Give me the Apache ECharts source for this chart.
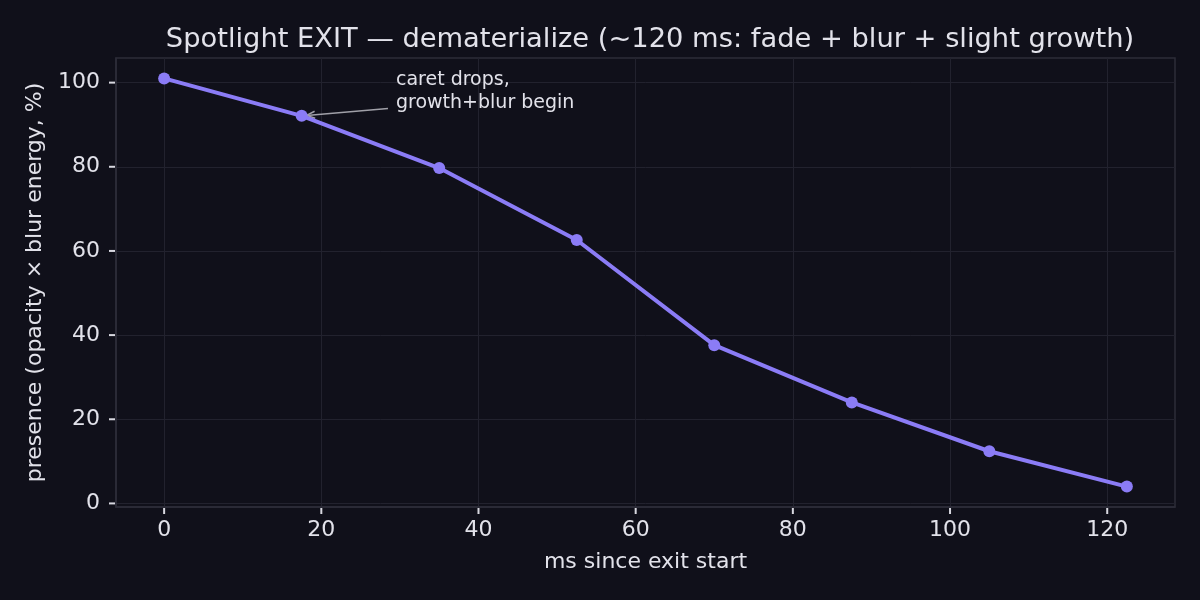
<!DOCTYPE html>
<html>
<head>
<meta charset="utf-8">
<script src="https://cdn.jsdelivr.net/npm/echarts@6/dist/echarts.min.js"></script>
<style>
  html, body { margin: 0; padding: 0; background: #10101a; }
  #chart { width: 1200px; height: 600px; }
</style>
</head>
<body>
<div id="chart"></div>
<script>
// time in ms since the exit starts
const msPoints = [0, 17.5, 35, 52.5, 70, 87.5, 105, 122.5];
// presence (opacity x blur energy), percent
const presence = [101, 92.1, 79.7, 62.6, 37.6, 24.0, 12.4, 4.0];
const xTicks = [0, 20, 40, 60, 80, 100, 120];
const yTicks = [0, 20, 40, 60, 80, 100];

const noteText = 'caret drops,\ngrowth+blur begin';
const noteAt = [17.5, 92.1];
const noteTextAt = [29.5, 97.9];

const xMin = -6.125, xMax = 128.625;
const yMin = -0.85, yMax = 105.85;

const font = 'DejaVu Sans';
const textColor = '#e2e2ea';
const frameColor = '#2c2c38';
const tickColor = '#d8d8e0';

const chart = echarts.init(document.getElementById('chart'));

const option = {
  backgroundColor: '#10101a',
  animation: false,
  title: {
    text: 'Spotlight EXIT — dematerialize (~120 ms: fade + blur + slight growth)',
    left: 645, top: 21, textAlign: 'center',
    textStyle: { color: textColor, fontFamily: font, fontSize: 27.3, fontWeight: 'normal' }
  },
  grid: {
    left: 116, right: 25, top: 58, bottom: 93,
    show: true, borderColor: frameColor, borderWidth: 1.5, backgroundColor: 'transparent'
  },
  xAxis: {
    type: 'value',
    min: xMin, max: xMax,
    name: 'ms since exit start',
    nameLocation: 'middle', nameGap: 44,
    nameTextStyle: { color: textColor, fontFamily: font, fontSize: 22 },
    axisLine: { show: true, onZero: false, lineStyle: { color: frameColor, width: 1.5 } },
    axisTick: { show: false, customValues: xTicks },
    axisLabel: { customValues: xTicks, color: textColor, fontFamily: font, fontSize: 22, margin: 12 },
    splitLine: { show: true, lineStyle: { color: '#22222e', width: 1 } }
  },
  yAxis: {
    type: 'value',
    min: yMin, max: yMax,
    name: 'presence (opacity × blur energy, %)',
    nameLocation: 'middle', nameGap: 70, nameRotate: 90,
    nameTextStyle: { color: textColor, fontFamily: font, fontSize: 22 },
    axisLine: { show: true, onZero: false, lineStyle: { color: frameColor, width: 1.5 } },
    axisTick: { show: false, customValues: yTicks },
    axisLabel: { customValues: yTicks, color: textColor, fontFamily: font, fontSize: 22, margin: 16 },
    splitLine: { show: true, lineStyle: { color: '#22222e', width: 1 } }
  },
  series: [{
    type: 'line',
    data: msPoints.map((x, i) => [x, presence[i]]),
    symbol: 'circle',
    symbolSize: 12,
    lineStyle: { color: '#8b7cf6', width: 4 },
    itemStyle: { color: '#8b7cf6' }
  }]
};

chart.setOption(option);

const toPx = (pt) => chart.convertToPixel({ gridIndex: 0 }, pt);
const graphics = [];

// outward tick marks, positioned through the axes' own scales
xTicks.forEach((v) => {
  const p = toPx([v, yMin]);
  graphics.push({
    type: 'line', silent: true, z: 100,
    shape: { x1: p[0], y1: p[1] + 1, x2: p[0], y2: p[1] + 7 },
    style: { stroke: tickColor, lineWidth: 2 }
  });
});
yTicks.forEach((v) => {
  const p = toPx([xMin, v]);
  graphics.push({
    type: 'line', silent: true, z: 100,
    shape: { x1: p[0] - 7, y1: p[1], x2: p[0] - 1, y2: p[1] },
    style: { stroke: tickColor, lineWidth: 2 }
  });
});

// annotation with arrow
const target = toPx(noteAt);
const textPos = toPx(noteTextAt);
const arrowStart = [textPos[0] - 8, textPos[1] + 17];
const ang = Math.atan2(target[1] - arrowStart[1], target[0] - arrowStart[0]);
const tip = [target[0] + 5 * Math.cos(ang + Math.PI), target[1] + 5 * Math.sin(ang + Math.PI)];
const headLen = 9;
graphics.push(
  {
    type: 'line',
    shape: { x1: arrowStart[0], y1: arrowStart[1], x2: tip[0], y2: tip[1] },
    style: { stroke: '#a0a0a8', lineWidth: 1.5 }
  },
  {
    type: 'polyline',
    shape: { points: [
      [tip[0] - headLen * Math.cos(ang - 0.4), tip[1] - headLen * Math.sin(ang - 0.4)],
      tip,
      [tip[0] - headLen * Math.cos(ang + 0.4), tip[1] - headLen * Math.sin(ang + 0.4)]
    ] },
    style: { stroke: '#a0a0a8', lineWidth: 1.5, fill: null }
  },
  {
    type: 'text',
    x: textPos[0], y: textPos[1],
    style: {
      text: noteText, fill: textColor, font: '19px "DejaVu Sans"',
      lineHeight: 23, verticalAlign: 'middle', align: 'left'
    }
  }
);

chart.setOption({ graphic: graphics });
</script>
</body>
</html>
